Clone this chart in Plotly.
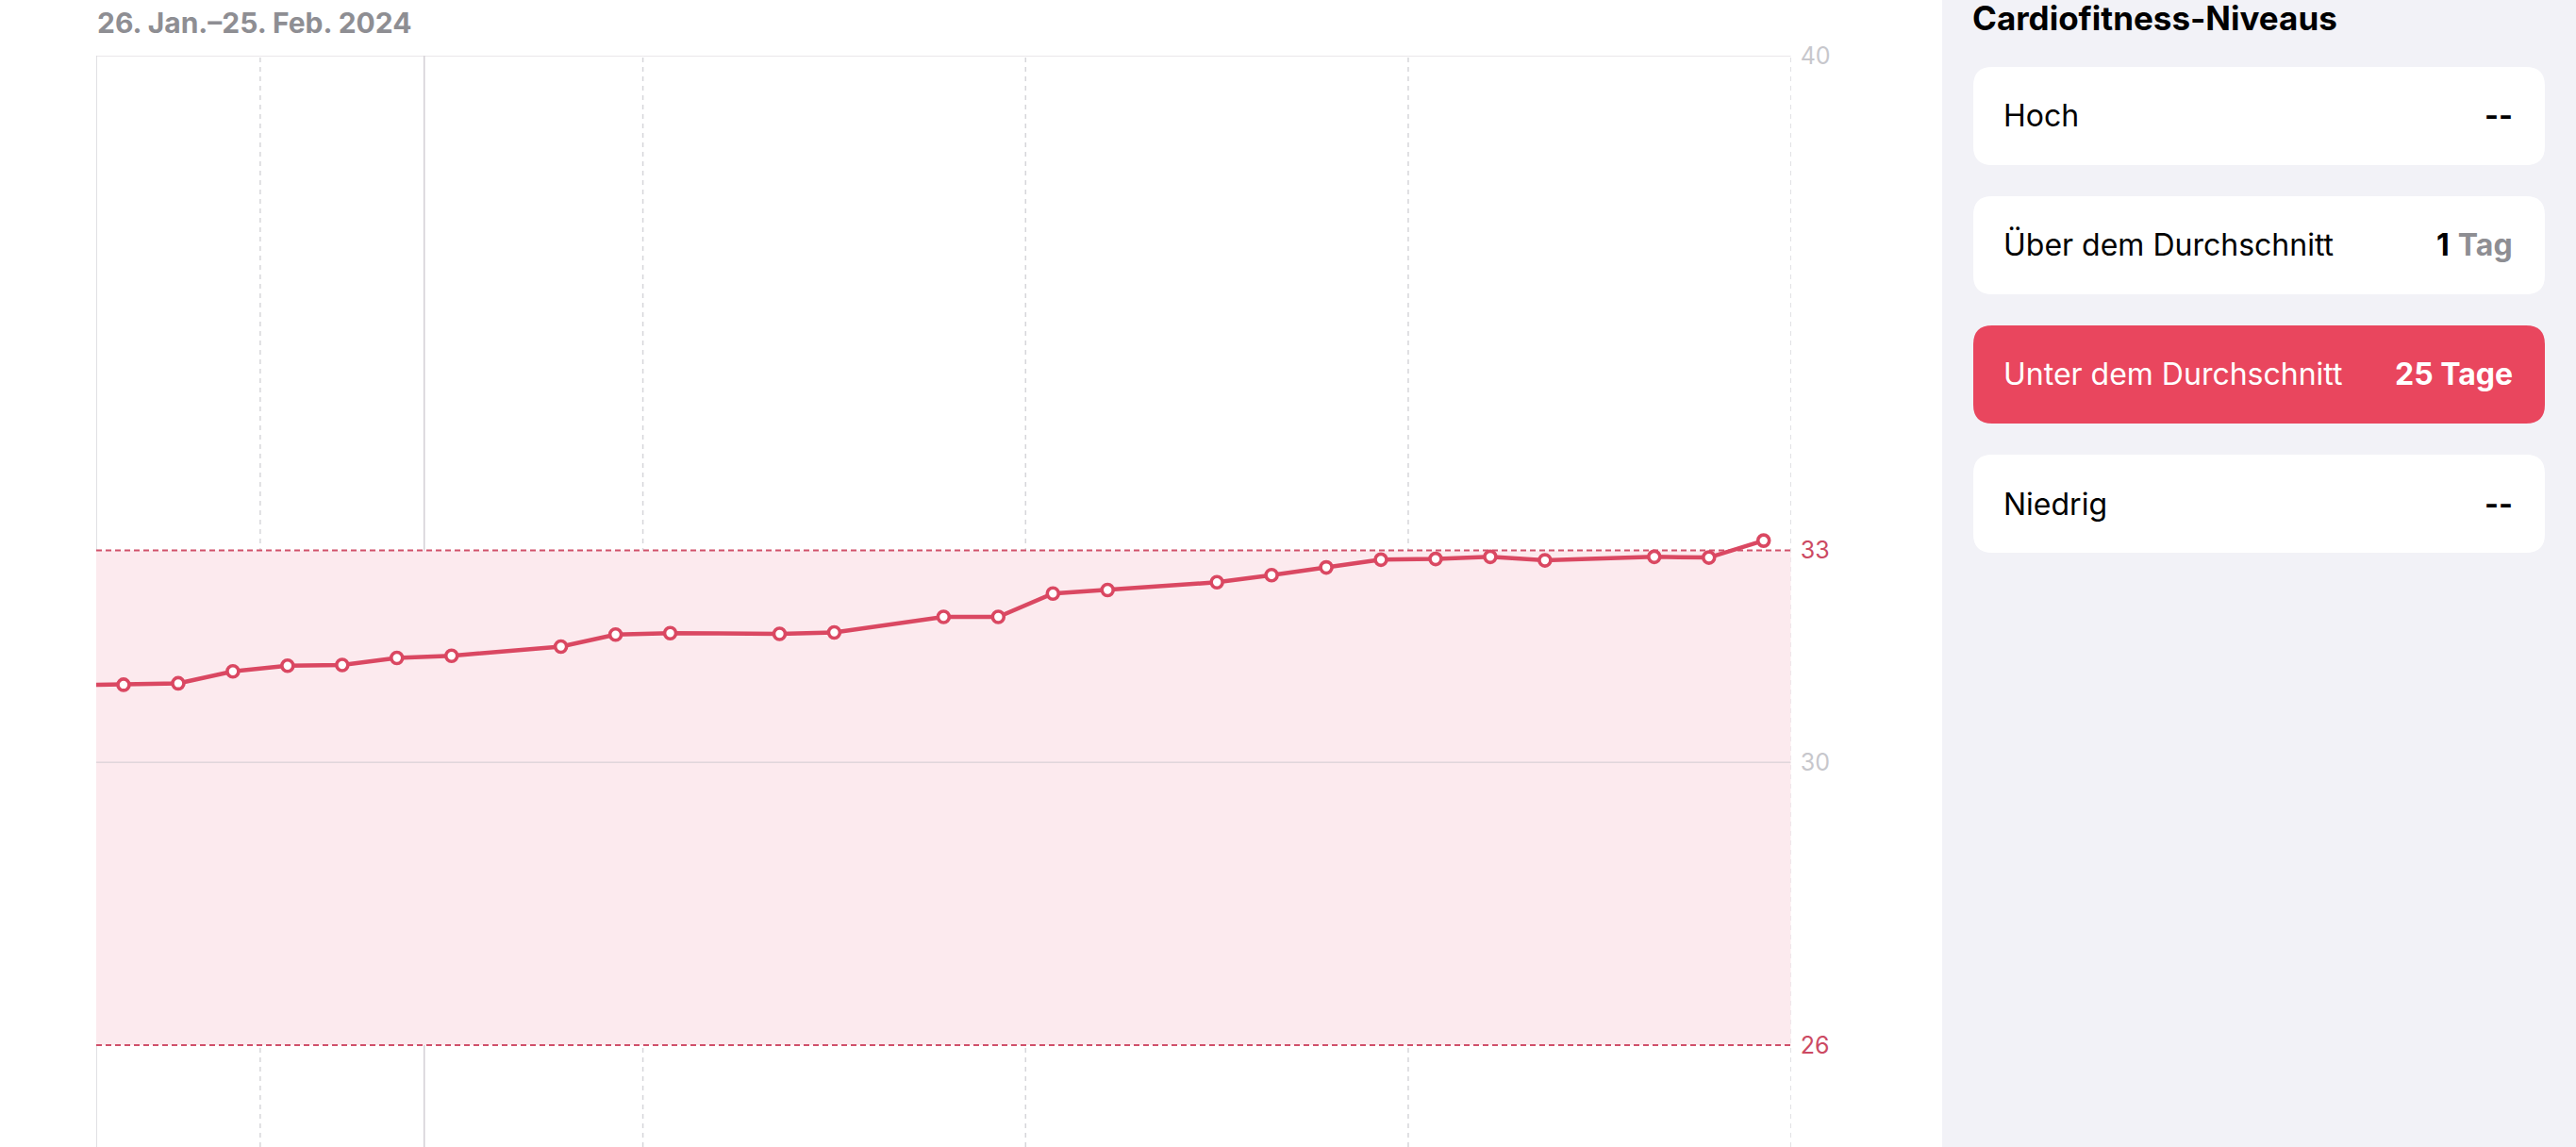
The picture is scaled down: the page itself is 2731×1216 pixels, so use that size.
import plotly.graph_objects as go

# ---------------- data ----------------
dates = ["2024-01-25", "2024-01-26", "2024-01-27", "2024-01-28", "2024-01-29", "2024-01-30",
         "2024-01-31", "2024-02-01", "2024-02-03", "2024-02-04", "2024-02-05", "2024-02-07",
         "2024-02-08", "2024-02-10", "2024-02-11", "2024-02-12", "2024-02-13", "2024-02-15",
         "2024-02-16", "2024-02-17", "2024-02-18", "2024-02-19", "2024-02-20", "2024-02-21",
         "2024-02-23", "2024-02-24", "2024-02-25"]
vo2max = [31.09, 31.10, 31.12, 31.29, 31.37, 31.38,
          31.48, 31.51, 31.64, 31.81, 31.83, 31.82,
          31.84, 32.06, 32.06, 32.39, 32.44, 32.55,
          32.65, 32.76, 32.87, 32.88, 32.91, 32.86,
          32.91, 32.90, 33.14]

x_start, x_end = "2024-01-26", "2024-02-26"
week_lines = ["2024-01-29", "2024-02-05", "2024-02-12", "2024-02-19", "2024-02-26"]
month_lines = ["2024-02-01"]
band_low, band_high = 26, 33
y_ticks = [26, 30, 33, 40]
y_tick_colors = ["#CC4A63", "#C7C7CC", "#CC4A63", "#C7C7CC"]
y_min, y_max = 24.557, 40

title_text = "26. Jan.–25. Feb. 2024"
panel_title = "Cardiofitness-Niveaus"
levels = ["Hoch", "Über dem Durchschnitt", "Unter dem Durchschnitt", "Niedrig"]
level_values = ["<b>--</b>", "<b>1</b> <b><span style='color:#8E8E93'>Tag</span></b>", "<b>25 Tage</b>", "<b>--</b>"]
level_active = [False, False, True, False]

# ---------------- style ----------------
W, H = 2731, 1216
RED = "#DA4862"
CARD_RED = "#E9465E"
FONT = "Inter, Roboto, sans-serif"

def px(xp):
    return xp / W

def py(yp):
    return 1 - yp / H

fig = go.Figure()

fig.add_trace(go.Scatter(
    x=[d + " 12:00" for d in dates], y=vo2max, mode="lines+markers",
    line=dict(color=RED, width=4.5),
    marker=dict(symbol="circle", size=12, color="white", line=dict(color=RED, width=3.6)),
    hoverinfo="x+y", showlegend=False,
))

shapes = []
# right panel background
shapes.append(dict(type="rect", xref="paper", yref="paper", x0=px(2059), x1=1, y0=0, y1=1,
                   fillcolor="#F2F2F7", line=dict(width=0), layer="below"))
# pink band
shapes.append(dict(type="rect", xref="x", yref="y", x0=x_start, x1=x_end, y0=band_low, y1=band_high,
                   fillcolor="#FCEAEE", line=dict(width=0), layer="below"))
# horizontal gray lines (top border and 30)
for v in [40, 30]:
    shapes.append(dict(type="line", xref="x", yref="y", x0=x_start, x1=x_end, y0=v, y1=v,
                       line=dict(color="rgba(205,200,206,0.6)", width=1.5), layer="below"))
# left border
shapes.append(dict(type="line", xref="x", yref="paper", x0=x_start, x1=x_start, y0=0, y1=1 - 59.3 / H,
                   line=dict(color="rgba(205,205,210,0.8)", width=1.5), layer="below"))
# weekly dashed lines
for d in week_lines:
    shapes.append(dict(type="line", xref="x", yref="paper", x0=d, x1=d, y0=0, y1=1 - 59.3 / H,
                       line=dict(color="rgba(200,200,206,0.75)", width=1.5, dash="5px,5px"), layer="below"))
# month solid line
for d in month_lines:
    shapes.append(dict(type="line", xref="x", yref="paper", x0=d, x1=d, y0=0, y1=1 - 59.3 / H,
                       line=dict(color="rgba(200,195,202,0.8)", width=1.5), layer="below"))
# band boundaries
for v in [band_high, band_low]:
    shapes.append(dict(type="line", xref="x", yref="y", x0=x_start, x1=x_end, y0=v, y1=v,
                       line=dict(color="#D0506A", width=2, dash="6px,4px"), layer="below"))

# cards
card_x0, card_x1 = 2092, 2698
card_tops = [71, 208, 345, 482]
card_h = 104
r = 20
rx, ry = r / W, r / H
annotations = []
for i, (lab, val, act) in enumerate(zip(levels, level_values, level_active)):
    t = card_tops[i]
    b = t + card_h
    X0, X1 = px(card_x0), px(card_x1)
    Y0, Y1 = py(b), py(t)
    path = (f"M {X0+rx},{Y0} L {X1-rx},{Y0} Q {X1},{Y0} {X1},{Y0+ry} "
            f"L {X1},{Y1-ry} Q {X1},{Y1} {X1-rx},{Y1} L {X0+rx},{Y1} "
            f"Q {X0},{Y1} {X0},{Y1-ry} L {X0},{Y0+ry} Q {X0},{Y0} {X0+rx},{Y0} Z")
    shapes.append(dict(type="path", xref="paper", yref="paper", path=path,
                       fillcolor=CARD_RED if act else "white", line=dict(width=0), layer="below"))
    col = "white" if act else "black"
    yc = py(t + card_h / 2)
    annotations.append(dict(xref="paper", yref="paper", x=px(2122), y=yc, xanchor="left", yanchor="middle",
                            text=lab, showarrow=False, font=dict(family=FONT, size=32, color=col)))
    annotations.append(dict(xref="paper", yref="paper", x=px(2666), y=yc, xanchor="right", yanchor="middle",
                            text=val, showarrow=False, font=dict(family=FONT, size=32, color=col)))

annotations.append(dict(xref="paper", yref="paper", x=px(2089), y=py(19), xanchor="left", yanchor="middle",
                        text=f"<b>{panel_title}</b>", showarrow=False,
                        font=dict(family=FONT, size=35, color="black")))
annotations.append(dict(xref="paper", yref="paper", x=px(101), y=py(24), xanchor="left", yanchor="middle",
                        text=f"<b>{title_text}</b>", showarrow=False,
                        font=dict(family=FONT, size=30, color="#8E8E93")))

fig.update_layout(
    width=W, height=H,
    margin=dict(l=0, r=0, t=0, b=0, pad=0, autoexpand=False),
    paper_bgcolor="white", plot_bgcolor="rgba(0,0,0,0)",
    shapes=shapes, annotations=annotations,
    xaxis=dict(type="date", range=[x_start, x_end], domain=[px(102), px(1898.7)], automargin=False,
               showgrid=False, zeroline=False, showticklabels=False, showline=False, ticks=""),
    yaxis=dict(range=[y_min, y_max], domain=[0, 1 - 59.3 / H], side="right", automargin=False,
               tickvals=y_ticks,
               ticktext=[f"<span style='color:{c}'>{v}</span>" for v, c in zip(y_ticks, y_tick_colors)],
               showgrid=False, zeroline=False, showline=False, ticks="",
               ticklabelstandoff=9, tickfont=dict(family=FONT, size=25, color="#C7C7CC")),
    hovermode="closest",
)

fig.write_html(
    "out.html",
    config={"displayModeBar": False},
    post_script="document.body.style.margin='0';document.body.style.overflow='hidden';",
)
